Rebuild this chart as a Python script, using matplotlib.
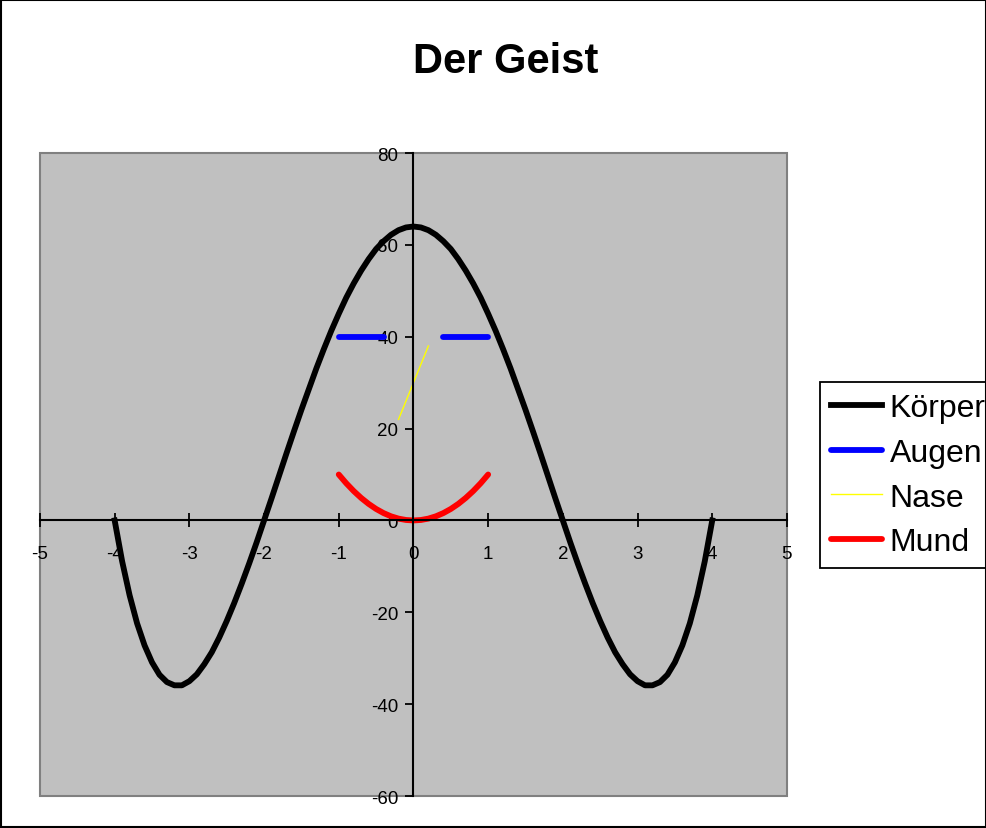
import matplotlib.pyplot as plt
from matplotlib.patches import Rectangle

plt.rcParams['font.family'] = ['Liberation Sans', 'DejaVu Sans']

# Körper
koerper_x = [-4.0, -3.9, -3.8, -3.7, -3.6, -3.5, -3.4, -3.3, -3.2, -3.1, -3.0,
             -2.9, -2.8, -2.7, -2.6, -2.5, -2.4, -2.3, -2.2, -2.1, -2.0,
             -1.9, -1.8, -1.7, -1.6, -1.5, -1.4, -1.3, -1.2, -1.1, -1.0,
             -0.9, -0.8, -0.7, -0.6, -0.5, -0.4, -0.3, -0.2, -0.1, 0.0,
             0.1, 0.2, 0.3, 0.4, 0.5, 0.6, 0.7, 0.8, 0.9, 1.0,
             1.1, 1.2, 1.3, 1.4, 1.5, 1.6, 1.7, 1.8, 1.9, 2.0,
             2.1, 2.2, 2.3, 2.4, 2.5, 2.6, 2.7, 2.8, 2.9, 3.0,
             3.1, 3.2, 3.3, 3.4, 3.5, 3.6, 3.7, 3.8, 3.9, 4.0]
koerper_y = [0.0, -8.9, -16.3, -22.4, -27.2, -30.9, -33.6, -35.2, -35.9, -35.9, -35.0,
             -33.5, -31.3, -28.7, -25.5, -21.9, -18.0, -13.8, -9.4, -4.8, 0.0,
             4.8, 9.7, 14.6, 19.4, 24.1, 28.6, 33.1, 37.3, 41.3, 45.0,
             48.5, 51.6, 54.4, 56.9, 59.1, 60.8, 62.2, 63.2, 63.8, 64.0,
             63.8, 63.2, 62.2, 60.8, 59.1, 56.9, 54.4, 51.6, 48.5, 45.0,
             41.3, 37.3, 33.1, 28.6, 24.1, 19.4, 14.6, 9.7, 4.8, 0.0,
             -4.8, -9.4, -13.8, -18.0, -21.9, -25.5, -28.7, -31.3, -33.5, -35.0,
             -35.9, -35.9, -35.2, -33.6, -30.9, -27.2, -22.4, -16.3, -8.9, 0.0]

# Augen (gap between the eyes)
augen_x = [-1.0, -0.9, -0.8, -0.7, -0.6, -0.5, -0.4, None, 0.4, 0.5, 0.6, 0.7, 0.8, 0.9, 1.0]
augen_y = [40, 40, 40, 40, 40, 40, 40, None, 40, 40, 40, 40, 40, 40, 40]

# Nase
nase_x = [-0.2, 0.2]
nase_y = [22, 38]

# Mund
mund_x = [-1.0, -0.9, -0.8, -0.7, -0.6, -0.5, -0.4, -0.3, -0.2, -0.1, 0.0,
          0.1, 0.2, 0.3, 0.4, 0.5, 0.6, 0.7, 0.8, 0.9, 1.0]
mund_y = [10.0, 8.1, 6.4, 4.9, 3.6, 2.5, 1.6, 0.9, 0.4, 0.1, 0.0,
          0.1, 0.4, 0.9, 1.6, 2.5, 3.6, 4.9, 6.4, 8.1, 10.0]

x_ticks = [-5, -4, -3, -2, -1, 0, 1, 2, 3, 4, 5]
y_ticks = [-60, -40, -20, 0, 20, 40, 60, 80]

fig = plt.figure(figsize=(9.87, 8.29), dpi=100)
ax = fig.add_axes([0.0405, 0.0386, 0.7568, 0.7756])
ax.set_facecolor('#C0C0C0')

ax.plot(koerper_x, koerper_y, color='black', lw=4.2, label='Körper', solid_joinstyle='round')
ax.plot([float('nan') if v is None else v for v in augen_x],
        [float('nan') if v is None else v for v in augen_y],
        color='#0000FF', lw=4.2, label='Augen', solid_capstyle='round')
ax.plot(nase_x, nase_y, color='#FFFF00', lw=1.0, label='Nase')
ax.plot(mund_x, mund_y, color='#FF0000', lw=4.2, label='Mund', solid_capstyle='round')

ax.set_xlim(-5, 5)
ax.set_ylim(-60, 80)
ax.set_xticks(x_ticks)
ax.set_yticks(y_ticks)
ax.set_xticklabels([str(t) for t in x_ticks])
ax.set_yticklabels([str(t) for t in y_ticks])

for s in ['top', 'right']:
    ax.spines[s].set_visible(False)
ax.spines['left'].set_position(('data', 0))
ax.spines['bottom'].set_position(('data', 0))
ax.spines['left'].set_linewidth(1.5)
ax.spines['bottom'].set_linewidth(1.5)
ax.tick_params(axis='x', direction='inout', length=10, width=1.3, pad=13, labelsize=13.5)
ax.tick_params(axis='y', direction='out', length=6, width=1.3, pad=5, labelsize=13.5)

# grey plot area border
ax.add_patch(Rectangle((0, 0), 1, 1, transform=ax.transAxes, fill=False,
                       edgecolor='#808080', lw=1.5, clip_on=False, zorder=0.5))

fig.text(0.512, 0.925, 'Der Geist', ha='center', va='center', fontsize=30, fontweight='bold')

leg = ax.legend(loc='upper left', bbox_to_anchor=(0.831, 0.538), bbox_transform=fig.transFigure,
                borderaxespad=0, fancybox=False, edgecolor='black', fontsize=23,
                handlelength=1.6, handletextpad=0.22, labelspacing=0.46, borderpad=0.35,
                framealpha=1)
leg.get_frame().set_linewidth(1.3)

# chart border
fig.patches.append(Rectangle((0.001, 0.001), 0.998, 0.998, transform=fig.transFigure,
                             fill=False, edgecolor='black', lw=1.5))

plt.savefig('out.png', dpi=100)
